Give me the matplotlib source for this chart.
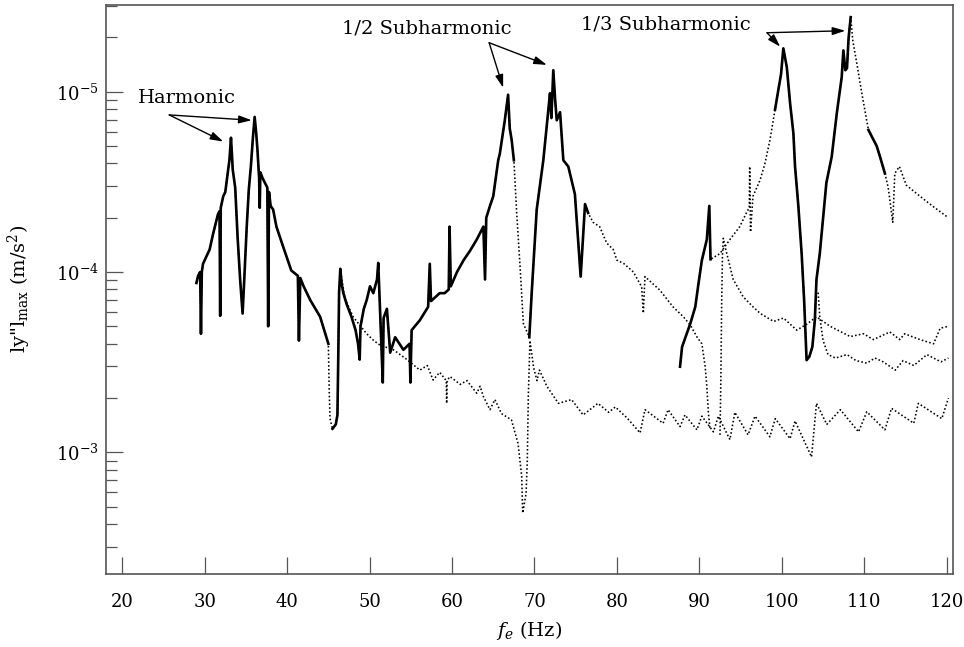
import matplotlib
matplotlib.use("Agg")
import matplotlib.pyplot as plt
from matplotlib.ticker import FixedLocator, LogFormatterSciNotation, NullFormatter
import numpy as np

plt.rcParams['font.family'] = ['DejaVu Serif']
plt.rcParams['mathtext.fontset'] = 'dejavuserif'

# Primary response branch: harmonic peaks, 1/2 subharmonic peaks and decaying tail
prim_f = [29.0, 29.2, 29.45, 29.55, 29.65, 29.8, 30.6, 31.0, 31.6, 31.8, 31.88, 31.95,
          32.25, 32.5, 32.85, 33.0, 33.19, 33.3, 33.4, 33.7, 34.0, 34.3, 34.6, 34.8,
          35.1, 35.35, 35.6, 35.85, 36.06, 36.25, 36.4, 36.6, 36.68, 36.75, 37.0, 37.3,
          37.6, 37.7, 37.8, 38.0, 38.3, 38.7, 39.5, 40.5, 41.3, 41.43, 41.6, 42.0, 42.8,
          44.0, 45.0, 45.1, 45.2, 45.5, 45.9, 46.1,
          46.2, 46.3, 46.45, 46.6, 46.8, 47.2, 47.8, 48.3, 48.6, 48.8, 48.9, 49.3, 49.65,
          50.05, 50.45, 50.9, 51.05, 51.2, 51.45, 51.6, 51.7, 52.1, 52.5, 53.1, 54.1,
          54.85, 54.95, 55.1, 56.1, 57.1, 57.3, 57.45, 58.5, 59.1, 59.6, 59.7, 59.85,
          60.6, 61.4, 62.2, 63.0, 63.8, 64.0, 64.15, 64.6, 65.0, 65.6, 65.8, 66.4, 66.8,
          67.0, 67.23, 67.5, 67.84, 68.25, 68.65, 69.37, 69.66, 70.27, 71.07, 71.68,
          71.88, 72.05, 72.28, 72.5, 72.7, 73.1, 73.5, 74.1, 74.9, 75.6, 76.13, 76.5,
          77.1, 77.9, 78.75, 79.55, 80.0, 80.8, 82.0, 83.0, 83.2, 83.4, 85.2, 86.8,
          88.05, 88.9, 89.7, 90.3, 90.7, 90.9, 91.1, 91.3]
prim_a = [1.15e-4, 1.05e-4, 1.0e-4, 2.2e-4, 1.0e-4, 9.0e-5, 7.5e-5, 6.2e-5, 4.8e-5, 4.6e-5, 1.75e-4, 4.4e-5,
          3.8e-5, 3.6e-5, 2.7e-5, 2.4e-5, 1.8e-5, 2.2e-5, 2.7e-5, 3.4e-5, 6.5e-5, 1.1e-4, 1.7e-4, 1.1e-4,
          5.6e-5, 3.5e-5, 2.6e-5, 1.8e-5, 1.38e-5, 1.7e-5, 2.1e-5, 3.0e-5, 4.4e-5, 2.8e-5, 3.0e-5, 3.2e-5,
          3.4e-5, 2.0e-4, 3.6e-5, 4.3e-5, 4.5e-5, 5.6e-5, 7.2e-5, 9.8e-5, 1.05e-4, 2.4e-4, 1.08e-4, 1.2e-4, 1.43e-4,
          1.77e-4, 2.5e-4, 4.5e-4, 6.5e-4, 7.4e-4, 7.0e-4, 6.2e-4,
          3.0e-4, 1.3e-4, 9.6e-5, 1.15e-4, 1.3e-4, 1.5e-4, 1.77e-4, 2.1e-4, 2.5e-4, 3.06e-4, 2.0e-4, 1.6e-4, 1.43e-4,
          1.2e-4, 1.31e-4, 1.1e-4, 8.9e-5, 1.35e-4, 2.7e-4, 4.1e-4, 1.8e-4, 1.6e-4, 2.8e-4, 2.3e-4, 2.7e-4,
          2.5e-4, 4.1e-4, 2.1e-4, 1.85e-4, 1.56e-4, 9.0e-5, 1.45e-4, 1.31e-4, 1.31e-4, 1.25e-4, 5.6e-5, 1.2e-4,
          1.0e-4, 8.6e-5, 7.6e-5, 6.6e-5, 5.6e-5, 1.1e-4, 5.0e-5, 4.3e-5, 3.8e-5, 2.4e-5, 2.2e-5, 1.44e-5, 1.04e-5,
          1.6e-5, 1.85e-5, 2.4e-5, 4.7e-5, 9.35e-5, 1.93e-4, 2.3e-4, 1.31e-4, 4.5e-5, 2.4e-5, 1.26e-5,
          1.02e-5, 1.4e-5, 7.6e-6, 1.1e-5, 1.44e-5, 1.3e-5, 2.4e-5, 2.6e-5, 3.7e-5, 1.06e-4, 4.2e-5, 4.7e-5,
          5.3e-5, 5.6e-5, 6.9e-5, 7.5e-5, 8.6e-5, 8.95e-5, 1.0e-4, 1.21e-4, 1.69e-4, 1.06e-4, 1.26e-4, 1.56e-4,
          1.77e-4, 1.97e-4, 2.29e-4, 2.5e-4, 3.35e-4, 4.3e-4, 6.1e-4, 7.5e-4]

# Lower branch with the deep notch near 68.6 Hz and the saw-tooth floor
low_f = [46.5, 47.0, 48.0, 49.65, 50.5, 51.3, 52.9, 54.5, 56.1, 57.0, 57.7, 58.5, 59.3, 59.35,
         59.4, 59.75, 61.0, 61.8, 63.0, 63.4, 63.8, 64.6, 65.2, 66.0, 67.2, 68.0, 68.45, 68.57,
         68.98, 69.13, 69.25, 69.45, 69.9, 70.3, 70.6, 71.5, 72.9, 74.5, 75.9, 77.7, 79.0, 79.8,
         81.3, 82.8, 83.4, 85.6, 86.2, 87.65, 88.25, 89.7, 90.3, 91.7, 92.3, 93.7, 94.3, 95.9,
         96.75, 98.55, 99.2, 101.0, 101.6, 103.6, 104.2, 105.45, 107.1, 109.3, 110.3, 112.5,
         113.3, 116.0, 116.55, 119.4, 120.2]
low_a = [1.0e-4, 1.4e-4, 1.77e-4, 2.2e-4, 2.4e-4, 2.55e-4, 2.7e-4, 3.05e-4, 3.5e-4, 3.3e-4, 3.97e-4, 3.6e-4, 4.0e-4, 5.35e-4,
         4.0e-4, 3.8e-4, 4.2e-4, 4.0e-4, 4.7e-4, 4.3e-4, 4.9e-4, 5.8e-4, 5.1e-4, 6.1e-4, 6.6e-4, 8.9e-4, 1.36e-3, 2.17e-3,
         1.69e-3, 1.1e-3, 4.9e-4, 2.4e-4, 3.4e-4, 4.0e-4, 3.5e-4, 4.3e-4, 5.35e-4, 5.1e-4, 6.2e-4, 5.35e-4, 6.0e-4, 5.6e-4,
         6.5e-4, 7.8e-4, 5.8e-4, 6.9e-4, 5.8e-4, 7.2e-4, 6.2e-4, 7.5e-4, 6.3e-4, 7.7e-4, 6.3e-4, 8.5e-4, 6.0e-4, 8.0e-4,
         6.3e-4, 8.2e-4, 6.5e-4, 8.4e-4, 6.7e-4, 1.06e-3, 5.35e-4, 7.0e-4, 5.8e-4, 7.7e-4, 5.96e-4, 7.5e-4,
         5.7e-4, 6.9e-4, 5.35e-4, 6.5e-4, 5.0e-4]

# 1/3 subharmonic branch
third_f = [87.65, 87.9, 88.46, 88.9, 89.5, 89.9, 90.3, 90.9, 91.2, 91.35, 92.5, 93.7, 94.9, 95.7,
           96.05, 96.1, 96.2, 96.5, 97.35, 97.95, 98.56, 99.17, 99.57, 99.9, 100.18, 100.6, 101.0,
           101.4, 101.6, 102.0, 102.4, 102.7, 103.0, 103.33, 103.7, 104.0, 104.2, 104.6, 105.4,
           106.05, 106.66, 107.26, 107.46, 107.7, 107.9, 108.1, 108.35, 108.6, 109.1, 109.7, 110.5,
           111.5, 111.9, 112.5, 112.9, 113.45, 113.7, 114.25, 115.1, 116.75, 118.4, 120.2]
third_a = [3.35e-4, 2.6e-4, 2.2e-4, 1.93e-4, 1.56e-4, 1.15e-4, 8.6e-5, 6.6e-5, 4.3e-5, 8.5e-5, 7.9e-5, 6.6e-5, 5.6e-5, 4.7e-5,
           4.4e-5, 2.6e-5, 6.0e-5, 3.8e-5, 3.1e-5, 2.5e-5, 1.85e-5, 1.26e-5, 9.8e-6, 8.0e-6, 5.75e-6, 7.3e-6, 1.16e-5,
           1.7e-5, 2.6e-5, 4.3e-5, 7.9e-5, 1.43e-4, 3.08e-4, 2.95e-4, 2.6e-4, 1.85e-4, 1.1e-4, 7.9e-5, 3.2e-5,
           2.29e-5, 1.32e-5, 8.3e-6, 5.9e-6, 7.6e-6, 7.4e-6, 5.0e-6, 3.86e-6, 5.2e-6, 7.0e-6, 1.02e-5, 1.63e-5,
           2.0e-5, 2.29e-5, 2.84e-5, 3.4e-5, 5.3e-5, 2.84e-5, 2.6e-5, 3.3e-5, 3.8e-5, 4.35e-5, 5.0e-5]

# Upper floor branch starting from the 92.9 Hz cusp
band1_f = [92.5, 92.6, 92.7, 92.8, 92.9, 93.2, 94.1, 95.3, 96.5, 97.4, 99.0, 100.2, 101.8, 103.0,
           104.2, 105.85, 108.3, 109.9, 111.1, 113.1, 114.3, 114.9, 116.75, 118.4, 119.2, 120.2]
band1_a = [8.0e-4, 4.0e-4, 1.5e-4, 8.0e-5, 6.5e-5, 7.5e-5, 1.1e-4, 1.37e-4, 1.56e-4, 1.7e-4, 1.88e-4, 1.8e-4, 2.1e-4, 1.95e-4,
           1.77e-4, 2.0e-4, 2.28e-4, 2.2e-4, 2.37e-4, 2.15e-4, 2.37e-4, 2.2e-4, 2.37e-4, 2.5e-4, 2.05e-4, 2.0e-4]

# Middle floor branch leaving the 1/3 subharmonic notch
band2_f = [104.4, 104.6, 105.0, 105.6, 106.5, 107.9, 109.0, 110.3, 111.3, 112.3, 113.75, 114.7,
           116.0, 117.6, 118.4, 119.3, 120.2]
band2_a = [1.3e-4, 1.77e-4, 2.4e-4, 2.87e-4, 3.0e-4, 2.87e-4, 3.1e-4, 3.2e-4, 3.0e-4, 3.15e-4, 3.5e-4, 3.1e-4,
           3.3e-4, 2.87e-4, 3.0e-4, 3.15e-4, 3.0e-4]

# Frequency ranges (Hz) where a branch is densely sampled and appears solid
prim_solid = [(29.0, 45.0), (45.5, 67.5), (69.37, 76.5)]
third_solid = [(87.65, 91.35), (99.17, 108.35), (110.5, 112.5)]

fig = plt.figure(figsize=(9.64, 6.47), dpi=100)
ax = fig.add_axes([0.1096, 0.1133, 0.8785, 0.8797])

dot = dict(color='black', lw=1.15, linestyle=(0, (1, 1.4)))
sol = dict(color='black', lw=1.9, linestyle='-', solid_joinstyle='round')


def draw(f, a, spans=()):
    f = np.asarray(f)
    a = np.asarray(a)
    ax.plot(f, a, **dot)
    for lo, hi in spans:
        m = (f >= lo) & (f <= hi)
        ax.plot(f[m], a[m], **sol)


draw(prim_f, prim_a, prim_solid)
draw(low_f, low_a)
draw(third_f, third_a, third_solid)
draw(band1_f, band1_a)
draw(band2_f, band2_a)

ax.set_yscale('log')
ax.set_xlim(17.99, 120.7)
ax.set_ylim(4.71e-3, 3.285e-6)

ax.xaxis.set_major_locator(FixedLocator([20, 30, 40, 50, 60, 70, 80, 90, 100, 110, 120]))
ax.yaxis.set_major_locator(FixedLocator([1e-5, 1e-4, 1e-3]))
ax.yaxis.set_major_formatter(LogFormatterSciNotation())
minor = [10.0 ** (d + 1) / m for d in (-6, -5, -4, -3) for m in range(2, 10)]
ax.yaxis.set_minor_locator(FixedLocator(minor))
ax.yaxis.set_minor_formatter(NullFormatter())

frame = '#555555'
for s in ax.spines.values():
    s.set_color(frame)
    s.set_linewidth(1.2)
ax.tick_params(axis='both', which='both', direction='in', colors=frame, labelcolor='black',
               top=False, right=False, width=0.9)
ax.tick_params(axis='both', which='major', length=12, labelsize=13)
ax.tick_params(axis='y', which='minor', length=7.7)
ax.tick_params(axis='x', which='major', pad=14)
ax.tick_params(axis='y', which='major', pad=5)

ax.set_ylabel('ly"l$_{\\rm max}$ (m/s$^2$)', fontsize=14)
ax.yaxis.set_label_coords(-0.086, 0.5)
ax.set_xlabel('$f_e$ (Hz)', fontsize=14)
ax.xaxis.set_label_coords(0.5, -0.08)

arrow = dict(arrowstyle='-|>,head_length=0.55,head_width=0.17', color='black', lw=1.0,
             shrinkA=0, shrinkB=0, mutation_scale=14)

ax.text(27.8, 1.08e-5, 'Harmonic', fontsize=14, ha='center', va='center')
for tip in [(32.25, 1.89e-5), (35.7, 1.44e-5)]:
    ax.annotate('', xy=tip, xytext=(25.7, 1.345e-5), arrowprops=arrow)

ax.text(57.0, 4.49e-6, '1/2 Subharmonic', fontsize=14, ha='center', va='center')
for tip in [(66.2, 9.5e-6), (71.5, 7.1e-6)]:
    ax.annotate('', xy=tip, xytext=(64.5, 5.35e-6), arrowprops=arrow)

ax.text(85.9, 4.22e-6, '1/3 Subharmonic', fontsize=14, ha='center', va='center')
for tip in [(99.8, 5.63e-6), (107.7, 4.59e-6)]:
    ax.annotate('', xy=tip, xytext=(98.2, 4.71e-6), arrowprops=arrow)

fig.savefig('out.png', dpi=100)
